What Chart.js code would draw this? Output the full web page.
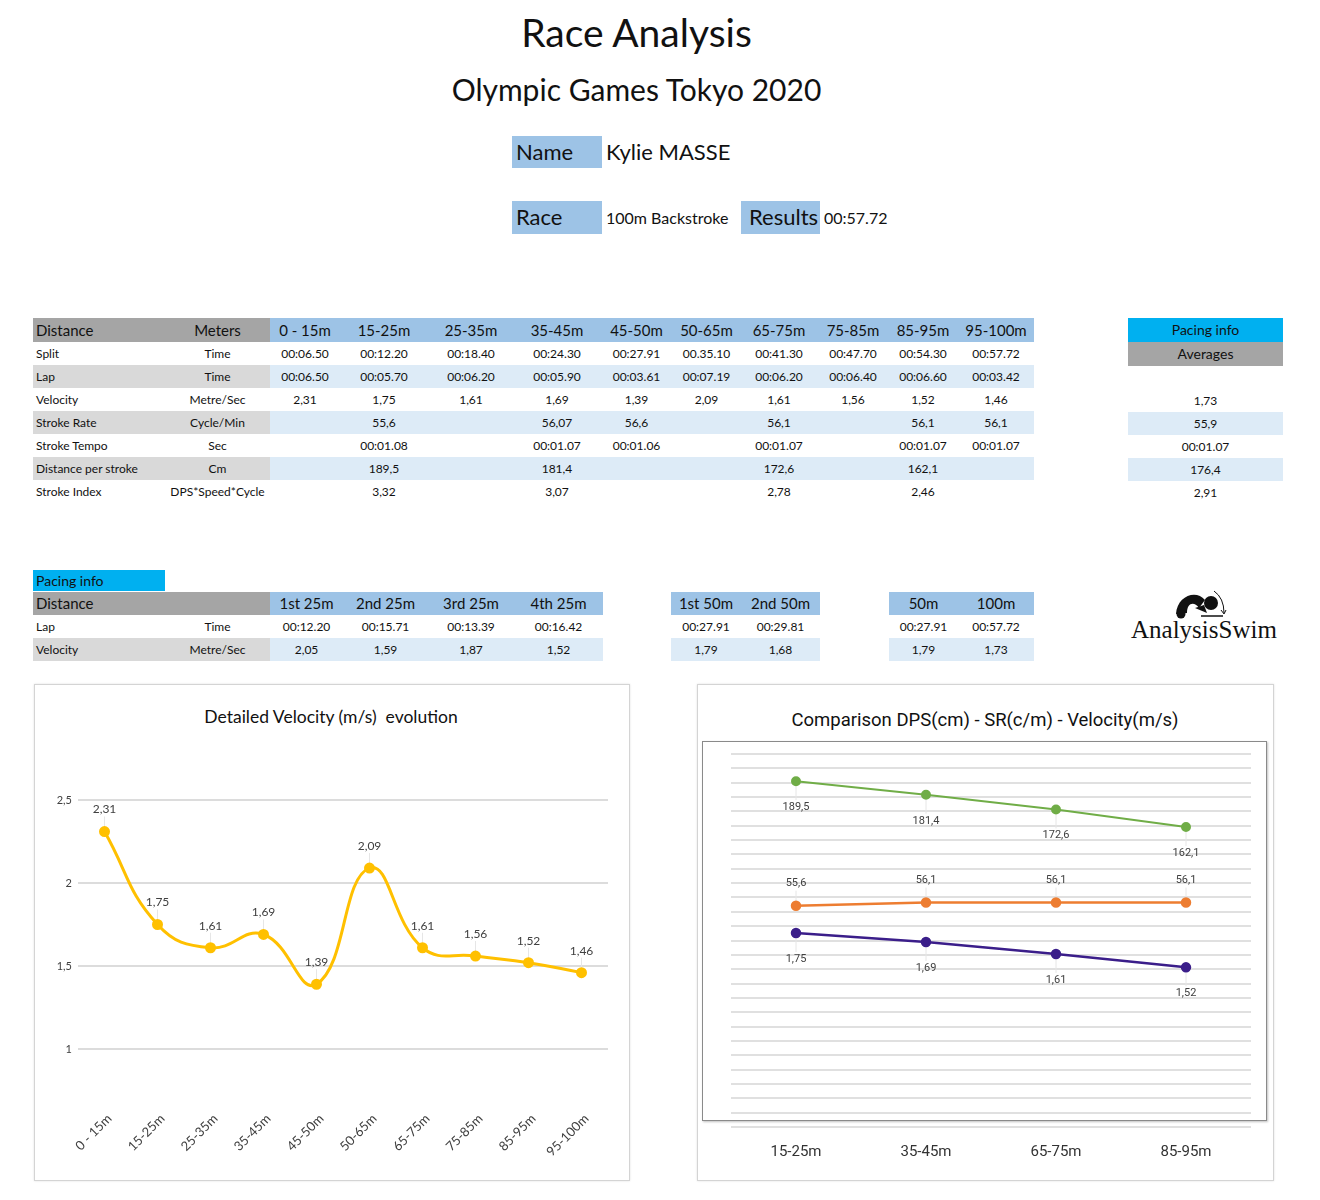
<!DOCTYPE html>
<html>
<head>
<meta charset="utf-8">
<script src="https://cdn.jsdelivr.net/npm/chart.js@4"></script>
<style>
  body { margin:0; background:#fff; font-family:'Lato','Open Sans',sans-serif; color:#111; }
  #page { position:relative; width:1320px; height:1200px; overflow:hidden; }
  .abs { position:absolute; }
  table.t { position:absolute; border-collapse:collapse; table-layout:fixed; }
  table.t td { padding:0 3px; white-space:nowrap; overflow:hidden; font-size:12px; height:23px; line-height:23px; }
  table.t tr.hd td { font-size:15px; height:24px; line-height:24px; }
  .lbl { background:#9DC3E6; font-size:22px; line-height:32px; padding-left:4px; box-sizing:border-box; }
  .card { position:absolute; border:1px solid #d4d4d4; box-shadow:0 0 2px rgba(0,0,0,0.12); background:#fff; }
  .ctitle { position:absolute; text-align:center; }
</style>
</head>
<body>
<div id="page">
  <div class="abs" style="left:0;width:1273px;top:9px;text-align:center;font-size:39px;">Race Analysis</div>
  <div class="abs" style="left:0;width:1273px;top:71px;text-align:center;font-size:30px;">Olympic Games Tokyo 2020</div>

  <div class="abs lbl" style="left:512px;top:136px;width:90px;height:32px;">Name</div>
  <div class="abs" style="left:606px;top:136px;font-size:22px;line-height:32px;">Kylie MASSE</div>
  <div class="abs lbl" style="left:512px;top:201px;width:90px;height:33px;">Race</div>
  <div class="abs" style="left:606px;top:201px;font-size:16px;line-height:33px;">100m Backstroke</div>
  <div class="abs lbl" style="left:741px;top:201px;width:79px;height:33px;padding-left:8px;">Results</div>
  <div class="abs" style="left:824px;top:201px;font-size:16px;line-height:33px;">00:57.72</div>

  <div id="tables"></div>

  <div class="abs" style="left:33px;top:570px;width:132px;height:21px;background:#00B0F0;font-size:14px;line-height:21px;padding-left:3px;box-sizing:border-box;">Pacing info</div>

  <svg class="abs" style="left:1170px;top:586px;" width="62" height="40" viewBox="1170 586 62 40">
    <circle cx="1211" cy="603" r="7" fill="#111"/>
    <path d="M1176 614 C1177 596 1196 589 1205 600 L1199 608 C1194 601 1187 603 1187 613 Z" fill="#111"/>
    <circle cx="1181" cy="614" r="4.5" fill="#111"/>
    <path d="M1195 608 L1204 605 L1207 613 Z" fill="#111"/>
    <line x1="1201" y1="616" x2="1223" y2="616" stroke="#111" stroke-width="1.5"/>
    <path d="M1214 591 Q1224 598 1224 613" fill="none" stroke="#111" stroke-width="1"/>
    <path d="M1221 610 L1224 614 L1226 610" fill="none" stroke="#111" stroke-width="1"/>
  </svg>
  <div class="abs" style="left:1131px;top:615px;font-family:'Liberation Serif','DejaVu Serif',serif;font-size:25px;line-height:30px;">AnalysisSwim</div>

  <div class="card" style="left:34px;top:684px;width:594px;height:495px;"></div>
  <div class="ctitle" style="left:34px;width:594px;top:706px;font-size:17.5px;">Detailed Velocity (m/s)&nbsp; evolution</div>
  <div class="abs" style="left:34px;top:684px;width:595px;height:496px;"><canvas id="velChart"></canvas></div>

  <div class="card" style="left:697px;top:684px;width:575px;height:495px;"></div>
  <div class="ctitle" style="left:697px;width:576px;top:709px;font-family:'Roboto',sans-serif;font-size:18.5px;">Comparison DPS(cm) - SR(c/m) - Velocity(m/s)</div>
  <div class="abs" style="left:702px;top:741px;width:563px;height:378px;border:1.5px solid #8a8a8a;box-shadow:1px 1px 2px rgba(0,0,0,0.25);"></div>
  <div class="abs" style="left:697px;top:684px;width:576px;height:496px;"><canvas id="cmpChart"></canvas></div>
</div>

<script>
// --- Data ---
const distances = ['0 - 15m', '15-25m', '25-35m', '35-45m', '45-50m', '50-65m', '65-75m', '75-85m', '85-95m', '95-100m'];
const splitTimes = ['00:06.50', '00:12.20', '00:18.40', '00:24.30', '00:27.91', '00.35.10', '00:41.30', '00:47.70', '00:54.30', '00:57.72'];
const lapTimes = ['00:06.50', '00:05.70', '00:06.20', '00:05.90', '00:03.61', '00:07.19', '00:06.20', '00:06.40', '00:06.60', '00:03.42'];
const velocities = [2.31, 1.75, 1.61, 1.69, 1.39, 2.09, 1.61, 1.56, 1.52, 1.46];
const strokeRates = [null, 55.6, null, 56.07, 56.6, null, 56.1, null, 56.1, 56.1];
const strokeTempos = ['', '00:01.08', '', '00:01.07', '00:01.06', '', '00:01.07', '', '00:01.07', '00:01.07'];
const dpsValues = [null, 189.5, null, 181.4, null, null, 172.6, null, 162.1, null];
const strokeIndex = [null, 3.32, null, 3.07, null, null, 2.78, null, 2.46, null];
const averages = [null, 1.73, 55.9, '00:01.07', 176.4, 2.91];

const quarters = ['1st 25m', '2nd 25m', '3rd 25m', '4th 25m'];
const quarterLaps = ['00:12.20', '00:15.71', '00:13.39', '00:16.42'];
const quarterVel = [2.05, 1.59, 1.87, 1.52];
const halves = ['1st 50m', '2nd 50m'];
const halfLaps = ['00:27.91', '00:29.81'];
const halfVel = [1.79, 1.68];
const marks = ['50m', '100m'];
const markTimes = ['00:27.91', '00:57.72'];
const markVel = [1.79, 1.73];

const compareLabels = ['15-25m', '35-45m', '65-75m', '85-95m'];
const dpsSeries = [189.5, 181.4, 172.6, 162.1];
const srSeries = [55.6, 56.1, 56.1, 56.1];
const velSeries = [1.75, 1.69, 1.61, 1.52];

// --- Tables ---
const GREY_HD = '#A5A5A5', BLUE_HD = '#9DC3E6', GREY_ROW = '#D9D9D9', BLUE_ROW = '#DDEBF7', CYAN = '#00B0F0';
const fmt = v => v == null ? '' : (typeof v === 'number' ? String(v).replace('.', ',') : v);

function td(text, bg, align, size) {
    return `<td style="background:${bg};text-align:${align};${size ? `font-size:${size}px;` : ''}">${fmt(text)}</td>`;
}

function table(left, top, widths, rowsHtml) {
    const cols = widths.map(w => `<col style="width:${w}px">`).join('');
    const total = widths.reduce((a, b) => a + b, 0);
    return `<table class="t" style="left:${left}px;top:${top}px;width:${total}px"><colgroup>${cols}</colgroup>${rowsHtml}</table>`;
}

let html = '';

// main table
let rows = '<tr class="hd">' + td('Distance', GREY_HD, 'left') + td('Meters', GREY_HD, 'center') +
    distances.map(d => td(d, BLUE_HD, 'center')).join('') + '</tr>';
const mainRows = [
    ['Split', 'Time', splitTimes],
    ['Lap', 'Time', lapTimes],
    ['Velocity', 'Metre/Sec', velocities],
    ['Stroke Rate', 'Cycle/Min', strokeRates],
    ['Stroke Tempo', 'Sec', strokeTempos],
    ['Distance per stroke', 'Cm', dpsValues],
    ['Stroke Index', 'DPS*Speed*Cycle', strokeIndex]
];
mainRows.forEach((r, i) => {
    const shaded = i % 2 === 1;
    rows += '<tr>' + td(r[0], shaded ? GREY_ROW : '#fff', 'left') + td(r[1], shaded ? GREY_ROW : '#fff', 'center') +
        r[2].map(v => td(v, shaded ? BLUE_ROW : '#fff', 'center')).join('') + '</tr>';
});
html += table(33, 318, [132, 105, 70, 88, 86, 86, 73, 67, 78, 70, 70, 76], rows);

// averages table
rows = '<tr class="hd">' + td('Pacing info', CYAN, 'center', 14) + '</tr>' +
    '<tr class="hd">' + td('Averages', GREY_HD, 'center', 14) + '</tr>';
averages.forEach((v, i) => {
    rows += '<tr>' + td(v, i % 2 === 0 && i > 0 ? BLUE_ROW : '#fff', 'center') + '</tr>';
});
html += table(1128, 318, [155], rows);

// pacing tables
rows = '<tr><td colspan="2" style="background:' + GREY_HD + ';font-size:15px">Distance</td>' +
    quarters.map(q => td(q, BLUE_HD, 'center', 15)).join('') + '</tr>' +
    '<tr>' + td('Lap', '#fff', 'left') + td('Time', '#fff', 'center') + quarterLaps.map(v => td(v, '#fff', 'center')).join('') + '</tr>' +
    '<tr>' + td('Velocity', GREY_ROW, 'left') + td('Metre/Sec', GREY_ROW, 'center') + quarterVel.map(v => td(v, BLUE_ROW, 'center')).join('') + '</tr>';
html += table(33, 592, [132, 105, 73, 85, 86, 89], rows);

function miniTable(left, widths, heads, times, vels) {
    const r = '<tr>' + heads.map(h => td(h, BLUE_HD, 'center', 15)).join('') + '</tr>' +
        '<tr>' + times.map(v => td(v, '#fff', 'center')).join('') + '</tr>' +
        '<tr>' + vels.map(v => td(v, BLUE_ROW, 'center')).join('') + '</tr>';
    return table(left, 592, widths, r);
}
html += miniTable(671, [70, 79], halves, halfLaps, halfVel);
html += miniTable(889, [69, 76], marks, markTimes, markVel);
document.getElementById('tables').innerHTML = html;

// --- Charts ---
Chart.defaults.font.family = "'Lato', sans-serif";
Chart.defaults.color = '#404040';

// value labels with faint leader lines (like the spreadsheet data labels)
const valueLabels = {
    id: 'valueLabels',
    beforeDatasetsDraw(chart) {
        const ctx = chart.ctx;
        chart.data.datasets.forEach((ds, i) => {
            const off = ds.labelOffset;
            const dir = off < 0 ? -1 : 1;
            chart.getDatasetMeta(i).data.forEach(pt => {
                ctx.save();
                ctx.strokeStyle = '#e6e6e6';
                ctx.lineWidth = 1;
                ctx.beginPath();
                ctx.moveTo(pt.x, pt.y + dir * 5);
                ctx.lineTo(pt.x, pt.y + off - dir * 7);
                ctx.stroke();
                ctx.restore();
            });
        });
    },
    afterDatasetsDraw(chart) {
        const ctx = chart.ctx;
        chart.data.datasets.forEach((ds, i) => {
            chart.getDatasetMeta(i).data.forEach((pt, j) => {
                ctx.save();
                ctx.font = ds.labelFont;
                ctx.fillStyle = '#404040';
                ctx.textAlign = 'center';
                ctx.textBaseline = 'middle';
                ctx.fillText(fmt(ds.data[j]), pt.x, pt.y + ds.labelOffset);
                ctx.restore();
            });
        });
    }
};

// 1. Detailed velocity (smoothed line)
new Chart(document.getElementById('velChart'), {
    type: 'line',
    data: {
        labels: distances,
        datasets: [{
            data: velocities,
            borderColor: '#FFC000',
            backgroundColor: '#FFC000',
            borderWidth: 3,
            pointRadius: 4,
            tension: 0.45,
            labelOffset: -22,
            labelFont: "12px 'Lato', sans-serif"
        }]
    },
    options: {
        responsive: true,
        maintainAspectRatio: false,
        animation: false,
        layout: { padding: { top: 116, right: 21, left: 0, bottom: 0 } },
        plugins: { legend: { display: false }, tooltip: { enabled: false } },
        scales: {
            x: {
                offset: true,
                grid: { display: false },
                border: { display: false },
                ticks: { font: { size: 13 }, color: '#404040', maxRotation: 45, minRotation: 45, padding: 54, labelOffset: 5, autoSkip: false },
                afterFit: s => { s.height = 131; s.paddingLeft = 0; s.paddingRight = 0; }
            },
            y: {
                min: 1, max: 2.5,
                grid: { color: '#dcdcdc', lineWidth: 2, drawTicks: false },
                border: { display: false },
                ticks: { stepSize: 0.5, font: { size: 11 }, color: '#404040', padding: 6, callback: v => fmt(v) },
                afterFit: s => { s.width = 44; s.paddingTop = 0; s.paddingBottom = 0; }
            }
        }
    },
    plugins: [valueLabels]
});

// 2. Comparison DPS - SR - Velocity (each on its own hidden scale)
const narrow = "'Roboto', sans-serif";
new Chart(document.getElementById('cmpChart'), {
    type: 'line',
    data: {
        labels: compareLabels,
        datasets: [
            { label: 'DPS', data: dpsSeries, yAxisID: 'yDps', borderColor: '#70AD47', backgroundColor: '#70AD47',
              borderWidth: 2, pointRadius: 4, labelOffset: 26, labelFont: '11px ' + narrow },
            { label: 'SR', data: srSeries, yAxisID: 'ySr', borderColor: '#ED7D31', backgroundColor: '#ED7D31',
              borderWidth: 2.5, pointRadius: 4, labelOffset: -22, labelFont: '11px ' + narrow },
            { label: 'Velocity', data: velSeries, yAxisID: 'yVel', borderColor: '#3B1E8A', backgroundColor: '#3B1E8A',
              borderWidth: 2.5, pointRadius: 4, labelOffset: 26, labelFont: '11px ' + narrow }
        ]
    },
    options: {
        responsive: true,
        maintainAspectRatio: false,
        animation: false,
        layout: { padding: { top: 70, right: 22, left: 34, bottom: 0 } },
        plugins: { legend: { display: false }, tooltip: { enabled: false } },
        scales: {
            x: {
                offset: true,
                grid: { display: false },
                border: { display: false },
                ticks: { font: { family: narrow, size: 15 }, color: '#333', padding: 8 },
                afterFit: s => { s.height = 53; }
            },
            yGrid: {
                position: 'left', min: 0, max: 26,
                grid: { color: '#e0e0e0', lineWidth: 2, drawTicks: false },
                border: { display: false },
                ticks: { display: false, stepSize: 1 },
                afterFit: s => { s.width = 0; }
            },
            yDps: { display: false, min: -17.5, max: 205.8 },
            ySr: { display: false, min: 20, max: 80 },
            yVel: { display: false, min: 0.45, max: 2.95 }
        }
    },
    plugins: [valueLabels]
});
</script>
</body>
</html>
